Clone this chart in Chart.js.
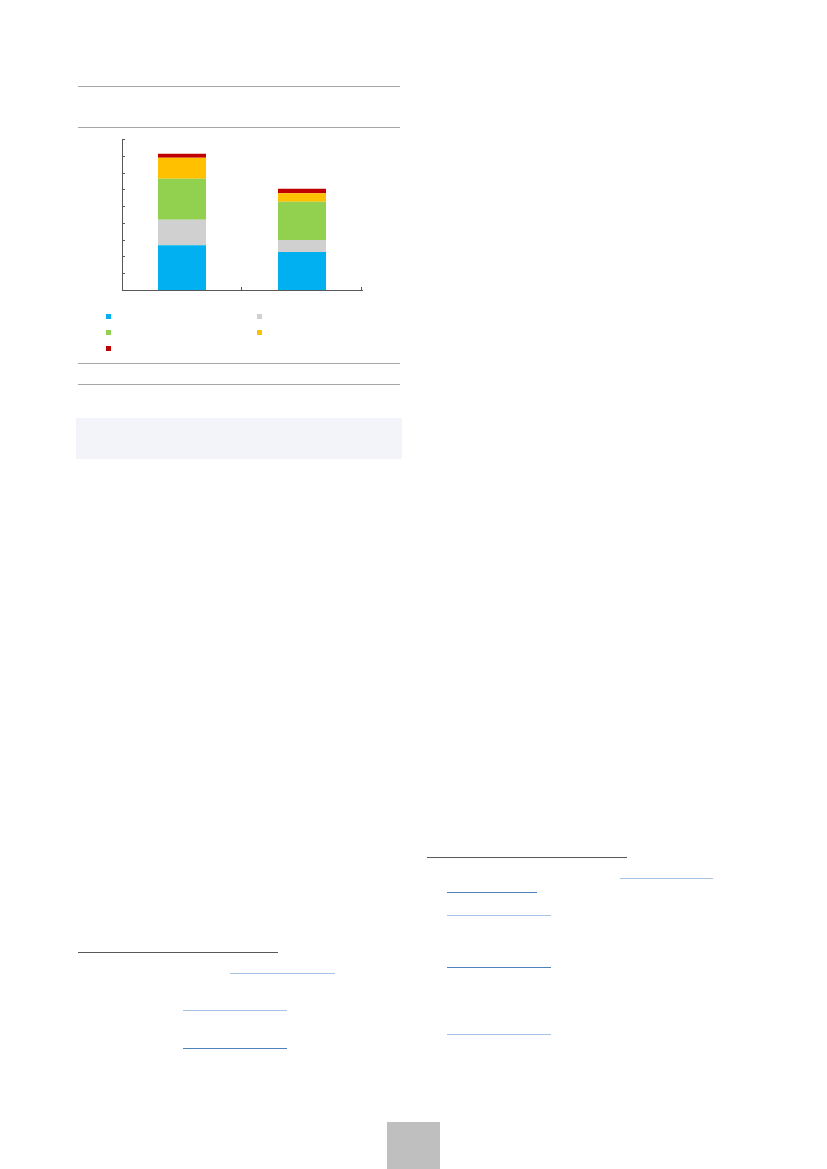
<!DOCTYPE html>
<html>
<head>
<meta charset="utf-8">
<script src="https://cdn.jsdelivr.net/npm/chart.js@4/dist/chart.umd.min.js"></script>
<style>
  body { margin: 0; background: #fff; font-family: "Liberation Sans", Arial, sans-serif; }
  .page { position: relative; width: 827px; height: 1169px; overflow: hidden; }
  .rule { position: absolute; height: 1px; }
  .grey-rule { background: #a6a6a6; }
  .dark-rule { background: #595959; }
  .link-light { background: #a9c3e6; }
  .link-dark { background: #4f81bd; }
  .note-box { position: absolute; left: 76px; top: 418px; width: 326px; height: 41px; background: #f2f4f9; }
  .page-no { position: absolute; left: 387px; top: 1122px; width: 53px; height: 47px; background: #bfbfbf; }
  #chartBox { position: absolute; left: 100px; top: 130px; width: 280px; height: 170px; }
  #legend { position: absolute; left: 0; top: 0; }
  .leg-item { position: absolute; width: 5px; height: 5px; }
</style>
</head>
<body>
<div class="page">
  <div class="rule grey-rule" style="left:78px;top:86px;width:322px"></div>
  <div class="rule grey-rule" style="left:78px;top:127px;width:322px"></div>

  <div id="chartBox"><canvas id="stackChart" width="280" height="170"></canvas></div>
  <div id="legend"></div>

  <div class="rule grey-rule" style="left:78px;top:363px;width:322px"></div>
  <div class="rule grey-rule" style="left:78px;top:384px;width:322px"></div>
  <div class="note-box"></div>

  <!-- footnotes, left column -->
  <div class="rule dark-rule" style="left:78px;top:952px;width:200px"></div>
  <div class="rule link-light" style="left:230px;top:973px;width:105px"></div>
  <div class="rule link-light" style="left:183px;top:1010px;width:104px"></div>
  <div class="rule link-dark" style="left:183px;top:1048px;width:104px"></div>

  <!-- footnotes, right column -->
  <div class="rule dark-rule" style="left:427px;top:857px;width:200px"></div>
  <div class="rule link-light" style="left:620px;top:878px;width:93px"></div>
  <div class="rule link-dark" style="left:447px;top:892px;width:90px"></div>
  <div class="rule link-light" style="left:447px;top:915px;width:104px"></div>
  <div class="rule link-dark" style="left:447px;top:967px;width:104px"></div>
  <div class="rule link-light" style="left:447px;top:1034px;width:104px"></div>

  <div class="page-no"></div>
</div>

<script>
// two stacked columns, no text shown in the source
var categories = ['', ''];
var yTicks = [0, 1, 2, 3, 4, 5, 6, 7, 8, 9];

var seriesBlue = [2.66, 2.26];
var seriesGrey = [1.53, 0.72];
var seriesGreen = [2.44, 2.28];
var seriesYellow = [1.25, 0.50];
var seriesRed = [0.24, 0.28];

var seriesColors = ['#00b0f0', '#d0d0d0', '#92d050', '#ffc000', '#c00000'];

// excel style tick marks, pointing into the plot
var innerTicks = {
  id: 'innerTicks',
  afterDraw: function(chart) {
    var ctx = chart.ctx, area = chart.chartArea;
    var x = chart.scales.x, y = chart.scales.y;
    ctx.save();
    ctx.strokeStyle = '#595959';
    ctx.lineWidth = 1;
    ctx.beginPath();
    yTicks.forEach(function(v) {
      var py = Math.round(y.getPixelForValue(v)) + 0.5;
      ctx.moveTo(area.left, py);
      ctx.lineTo(area.left + 3, py);
    });
    var step = x.getPixelForValue(1) - x.getPixelForValue(0);
    categories.forEach(function(c, i) {
      var px = Math.round(x.getPixelForValue(i) + step / 2) - 0.5;
      ctx.moveTo(px, area.bottom);
      ctx.lineTo(px, area.bottom - 3);
    });
    ctx.stroke();
    ctx.restore();
  }
};

var chart = new Chart(document.getElementById('stackChart').getContext('2d'), {
  type: 'bar',
  data: {
    labels: categories,
    datasets: [
      { label: '', data: seriesBlue, backgroundColor: seriesColors[0] },
      { label: '', data: seriesGrey, backgroundColor: seriesColors[1] },
      { label: '', data: seriesGreen, backgroundColor: seriesColors[2] },
      { label: '', data: seriesYellow, backgroundColor: seriesColors[3] },
      { label: '', data: seriesRed, backgroundColor: seriesColors[4] }
    ]
  },
  options: {
    responsive: false,
    animation: false,
    layout: { padding: { left: 22, top: 9, right: 18, bottom: 10 } },
    datasets: { bar: { barPercentage: 0.4, categoryPercentage: 1, borderWidth: 0 } },
    plugins: { legend: { display: false }, tooltip: { enabled: false } },
    scales: {
      x: {
        stacked: true,
        grid: { display: false },
        ticks: { display: false },
        border: { display: true, color: '#595959', width: 1 },
        afterFit: function(s) { s.height = 0; }
      },
      y: {
        stacked: true,
        min: 0,
        max: 9,
        grid: { display: false },
        ticks: { display: false, stepSize: 1 },
        border: { display: true, color: '#595959', width: 1 },
        afterFit: function(s) { s.width = 0; }
      }
    }
  },
  plugins: [innerTicks]
});

// legend in two columns below the plot, squares only
var legendPos = [[106, 314], [257, 314], [106, 330], [257, 330], [106, 346]];
var legendEl = document.getElementById('legend');
chart.data.datasets.forEach(function(ds, i) {
  var item = document.createElement('div');
  item.className = 'leg-item';
  item.style.left = legendPos[i][0] + 'px';
  item.style.top = legendPos[i][1] + 'px';
  item.style.background = ds.backgroundColor;
  item.textContent = ds.label;
  legendEl.appendChild(item);
});
</script>
</body>
</html>
